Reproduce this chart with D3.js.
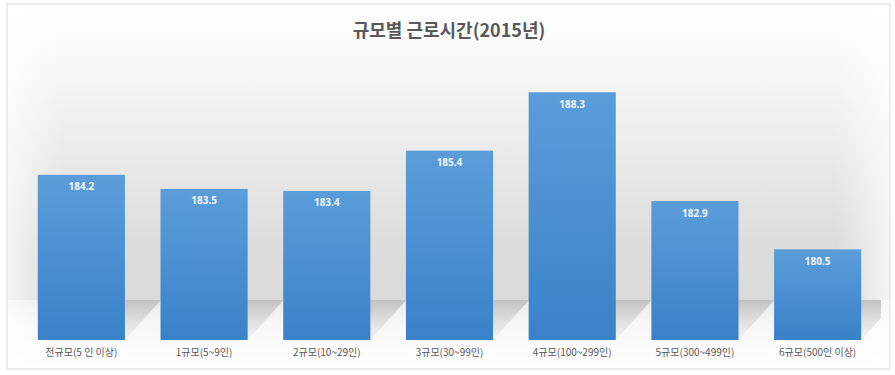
<!DOCTYPE html>
<html><head><meta charset="utf-8">
<script src="https://cdn.jsdelivr.net/npm/d3@7"></script>
<style>body{margin:0;background:#fff}svg{display:block}</style>
</head><body>
<script>
const categories = ["전규모(5 인 이상)","1규모(5~9인)","2규모(10~29인)","3규모(30~99인)","4규모(100~299인)","5규모(300~499인)","6규모(500인 이상)"];
const hours = [184.2, 183.5, 183.4, 185.4, 188.3, 182.9, 180.5];
const yDomain = [176, 190];
const title = "규모별 근로시간(2015년)";

const W = 895, H = 375;
const svg = d3.select("body").append("svg").attr("width", W).attr("height", H);
const defs = svg.append("defs");

const wall = defs.append("linearGradient").attr("id","wall").attr("x1",0).attr("y1",0).attr("x2",0).attr("y2",1);
wall.append("stop").attr("offset","0%").attr("stop-color","#ffffff");
wall.append("stop").attr("offset","25%").attr("stop-color","#f6f6f6");
wall.append("stop").attr("offset","80%").attr("stop-color","#dddddd");
wall.append("stop").attr("offset","100%").attr("stop-color","#dadada");

const floor = defs.append("linearGradient").attr("id","floor").attr("x1",0).attr("y1",0).attr("x2",0).attr("y2",1);
floor.append("stop").attr("offset","0%").attr("stop-color","#ececec");
floor.append("stop").attr("offset","35%").attr("stop-color","#f7f7f7");
floor.append("stop").attr("offset","100%").attr("stop-color","#ffffff");

const side = defs.append("linearGradient").attr("id","side").attr("x1",0).attr("y1",0).attr("x2",1).attr("y2",0);
side.append("stop").attr("offset","0%").attr("stop-color","#ffffff").attr("stop-opacity",0.7);
side.append("stop").attr("offset","6%").attr("stop-color","#ffffff").attr("stop-opacity",0);
side.append("stop").attr("offset","94%").attr("stop-color","#ffffff").attr("stop-opacity",0);
side.append("stop").attr("offset","100%").attr("stop-color","#ffffff").attr("stop-opacity",0.7);

const shadow = defs.append("linearGradient").attr("id","shadow").attr("x1",0).attr("y1",0).attr("x2",0).attr("y2",1);
shadow.append("stop").attr("offset","0%").attr("stop-color","#c2c2c2");
shadow.append("stop").attr("offset","100%").attr("stop-color","#e6e6e6").attr("stop-opacity",0.4);

const barG = defs.append("linearGradient").attr("id","bar").attr("x1",0).attr("y1",0).attr("x2",0).attr("y2",1);
barG.append("stop").attr("offset","0%").attr("stop-color","#5b9dd9");
barG.append("stop").attr("offset","100%").attr("stop-color","#3a81c9");

// frame
const fx = 7, fy = 4, fw = 883, fh = 365;
defs.append("clipPath").attr("id","inner").append("rect")
  .attr("x",fx+1).attr("y",fy+1).attr("width",fw-10).attr("height",fh-2);
svg.append("rect").attr("x",fx).attr("y",fy).attr("width",fw).attr("height",fh).attr("fill","#fff");

const x = d3.scaleBand().domain(categories).range([20, 879]).paddingInner(0.29).paddingOuter(0.145);
const y = d3.scaleLinear().domain(yDomain).range([340, 58]);
const base = y(yDomain[0]);
const floorTop = base - 40;

svg.append("rect").attr("x",fx+1).attr("y",fy+1).attr("width",fw-2).attr("height",floorTop-fy-1).attr("fill","url(#wall)");
svg.append("rect").attr("x",fx+1).attr("y",floorTop).attr("width",fw-2).attr("height",fy+fh-floorTop-1).attr("fill","url(#floor)");
svg.append("rect").attr("x",fx+1).attr("y",fy+1).attr("width",fw-2).attr("height",fh-2).attr("fill","url(#side)");

// shadows
const d = 36;
svg.append("g").attr("clip-path","url(#inner)").selectAll("path").data(hours).join("path")
  .attr("d",(v,i)=>{
    const x0 = x(categories[i]), x1 = x0 + x.bandwidth();
    return `M${x0},${base}L${x1},${base}L${x1+d},${floorTop}L${x0+d},${floorTop}Z`;
  })
  .attr("fill","url(#shadow)");

svg.append("rect").attr("x",fx).attr("y",fy).attr("width",fw).attr("height",fh)
  .attr("fill","none").attr("stroke","#d9d9d9").attr("stroke-width",1);

// bars
svg.append("g").selectAll("rect").data(hours).join("rect")
  .attr("x",(v,i)=>x(categories[i]))
  .attr("y",v=>y(v))
  .attr("width",x.bandwidth())
  .attr("height",v=>base-y(v))
  .attr("fill","url(#bar)");

// value labels
svg.append("g").selectAll("text").data(hours).join("text")
  .attr("x",(v,i)=>x(categories[i])+x.bandwidth()/2)
  .attr("y",v=>y(v)+15.5)
  .attr("text-anchor","middle")
  .attr("font-family","'Noto Sans', 'DejaVu Sans', sans-serif")
  .attr("font-weight","bold")
  .attr("font-size","10px")
  .attr("fill","#f2f6fb")
  .text(v=>v.toFixed(1));

// category axis
const ax = svg.append("g").attr("transform",`translate(0,${base})`)
  .call(d3.axisBottom(x).tickSize(0).tickPadding(9));
ax.select(".domain").remove();
ax.selectAll("text")
  .attr("font-family","'Noto Sans CJK KR', 'Noto Sans', sans-serif")
  .attr("font-size","10px")
  .attr("fill","#595959");

// title
svg.append("text").attr("x",449).attr("y",37).attr("text-anchor","middle")
  .attr("font-family","'Noto Sans CJK KR', sans-serif")
  .attr("font-weight","bold").attr("font-size","18px").attr("fill","#595959")
  .text(title);
</script>
</body></html>
